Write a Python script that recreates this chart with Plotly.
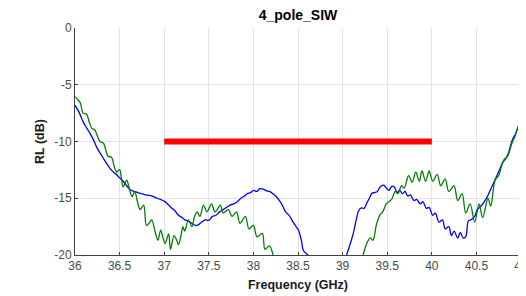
import plotly.graph_objects as go

# Blue trace (frequency GHz, RL dB); None marks where the curve leaves the -20 dB floor
blue_f = [36.00, 36.05, 36.09, 36.13, 36.17, 36.21, 36.24, 36.28, 36.32, 36.36, 36.39, 36.43, 36.47, 36.50,
          36.54, 36.58, 36.62, 36.66, 36.69, 36.74, 36.80, 36.86, 36.92, 36.97, 37.01, 37.05, 37.09, 37.12,
          37.16, 37.20, 37.23, 37.27, 37.31, 37.35, 37.38, 37.42, 37.46, 37.50, 37.54, 37.58, 37.62, 37.66,
          37.70, 37.74, 37.78, 37.82, 37.86, 37.90, 37.93, 37.97, 38.00, 38.04, 38.07, 38.11, 38.15, 38.18,
          38.21, 38.25, 38.30, 38.33, 38.36, 38.40, 38.43, 38.47, 38.51, 38.54, 38.56, 38.615, None,
          39.045, 39.09, 39.12, 39.15, 39.18, 39.21, 39.24, 39.27, 39.30, 39.33, 39.36, 39.39, 39.42, 39.46,
          39.49, 39.52, 39.55, 39.58, 39.61, 39.64, 39.67, 39.70, 39.73, 39.76, 39.80, 39.83, 39.87, 39.90,
          39.94, 39.97, 40.01, 40.04, 40.08, 40.12, 40.15, 40.19, 40.22, 40.25, 40.29, 40.32, 40.35, 40.38,
          40.41, 40.44, 40.48, 40.51, 40.55, 40.58, 40.62, 40.66, 40.69, 40.73, 40.76, 40.79, 40.83, 40.86,
          40.90, 40.94, 40.97, 41.00]
blue_rl = [-6.8, -7.5, -8.25, -8.8, -9.3, -9.9, -10.45, -11.0, -11.5, -12.0, -12.35, -12.7, -12.95, -13.2,
           -13.5, -13.9, -14.25, -14.4, -14.45, -14.6, -14.7, -14.8, -15.0, -15.15, -15.3, -15.6, -15.9, -16.1,
           -16.5, -16.7, -16.9, -17.0, -17.2, -17.4, -17.35, -17.1, -16.9, -16.95, -16.6, -16.5, -16.2, -16.0,
           -15.8, -15.6, -15.5, -15.3, -15.0, -14.8, -14.6, -14.5, -14.3, -14.4, -14.15, -14.2, -14.35, -14.4,
           -14.55, -14.8, -15.3, -15.7, -16.2, -16.5, -16.9, -17.4, -17.9, -18.8, -19.6, -20.0, None,
           -20.0, -18.9, -18.1, -17.0, -16.1, -15.85, -15.9, -15.45, -15.0, -14.55, -14.5, -14.4, -14.0, -13.85,
           -14.1, -14.3, -13.95, -14.0, -14.5, -14.3, -14.6, -14.4, -14.8, -14.7, -15.2, -15.1, -15.5, -15.3,
           -15.9, -15.8, -16.5, -16.3, -17.1, -16.9, -17.7, -17.5, -18.3, -17.9, -18.5, -18.0, -18.5, -18.4,
           -17.0, -16.9, -16.6, -16.0, -15.7, -15.4, -14.9, -14.2, -13.7, -13.0, -12.5, -11.9, -11.5, -11.0,
           -9.9, -9.3, -8.7, -8.25]

# Green trace
green_f = [36.00, 36.03, 36.06, 36.09, 36.13, 36.16, 36.19, 36.22, 36.25, 36.28, 36.32, 36.35, 36.37, 36.41,
           36.44, 36.47, 36.50, 36.52, 36.54, 36.58, 36.61, 36.64, 36.67, 36.70, 36.73, 36.77, 36.80, 36.83,
           36.86, 36.90, 36.93, 36.96, 36.99, 37.01, 37.05, 37.07, 37.11, 37.14, 37.16, 37.19, 37.21, 37.23,
           37.27, 37.31, 37.34, 37.37, 37.40, 37.44, 37.48, 37.53, 37.57, 37.63, 37.66, 37.72, 37.76, 37.81,
           37.85, 37.91, 37.95, 38.00, 38.04, 38.10, 38.13, 38.18, 38.22, None,
           39.23, 39.27, 39.31, 39.34, 39.38, 39.42, 39.45, 39.49, 39.52, 39.55, 39.59, 39.62, 39.66, 39.69,
           39.74, 39.78, 39.82, 39.86, 39.89, 39.93, 39.97, 40.01, 40.06, 40.10, 40.15, 40.19, 40.25, 40.29,
           40.34, 40.38, 40.43, 40.48, 40.53, 40.57, 40.63, 40.66, 40.71, 40.75, 40.78, 40.81, 40.85, 40.90,
           40.93, 40.96, 41.00]
green_rl = [-6.05, -6.3, -6.6, -7.5, -7.6, -8.3, -8.85, -8.95, -9.5, -10.0, -10.15, -10.9, -11.3, -11.4,
            -12.2, -12.7, -12.45, -13.2, -14.0, -13.4, -14.2, -14.85, -14.4, -15.3, -16.0, -15.6, -17.4, -17.2,
            -16.9, -18.0, -18.7, -17.8, -18.6, -19.0, -18.15, -19.5, -18.3, -18.7, -19.1, -18.2, -17.5, -17.9,
            -16.9, -17.5, -16.6, -16.2, -16.6, -15.6, -16.2, -15.5, -16.2, -15.6, -16.3, -16.0, -16.6, -16.2,
            -17.2, -16.6, -17.7, -17.4, -18.4, -18.1, -19.5, -19.2, -20.0, None,
            -20.0, -19.0, -18.5, -18.7, -17.3, -16.45, -16.2, -15.5, -15.3, -15.1, -14.4, -14.6, -13.9, -14.1,
            -13.0, -13.6, -12.7, -13.5, -12.6, -13.5, -12.6, -13.5, -12.9, -13.9, -13.3, -14.4, -13.9, -15.2,
            -14.6, -16.3, -15.5, -17.1, -15.5, -16.7, -15.0, -15.7, -13.4, -13.0, -12.2, -11.6, -11.3, -10.1,
            -9.6, -8.85, -8.25]

# Red specification line
spec_f = [37.0, 40.0]
spec_rl = [-10.0, -10.0]

x_ticks = [36, 36.5, 37, 37.5, 38, 38.5, 39, 39.5, 40, 40.5, 41]
x_tick_text = ["36", "36.5", "37", "37.5", "38", "38.5", "39", "39.5", "40", "40.5", "41"]
y_ticks = [-20, -15, -10, -5, 0]
y_tick_text = ["-20", "-15", "-10", "-5", "0"]

fig = go.Figure()
fig.add_trace(go.Scatter(x=blue_f, y=blue_rl, mode="lines", line=dict(color="#0000FF", width=1.3, shape="spline", smoothing=0.9),
                         connectgaps=False, showlegend=False))
fig.add_trace(go.Scatter(x=green_f, y=green_rl, mode="lines", line=dict(color="#008000", width=1.3, shape="spline", smoothing=0.9),
                         connectgaps=False, showlegend=False))
fig.add_trace(go.Scatter(x=spec_f, y=spec_rl, mode="lines", line=dict(color="#FF0000", width=6), showlegend=False))

# the page body has an 8px default margin, so the figure is sized to fill the rest of the window
W, H = 518, 288
font_family = "Liberation Sans, Arial, sans-serif"
axis_font = dict(family=font_family, size=12, color="#4a4a4a")
fig.update_layout(
    width=W, height=H,
    margin=dict(l=67, r=5, t=20, b=41, autoexpand=False),
    paper_bgcolor="white", plot_bgcolor="white",
    title=dict(text="<b>4_pole_SIW</b>", x=290 / W, xanchor="center", y=1 - 7 / H, yanchor="middle",
               font=dict(family=font_family, size=14, color="#000000")),
    xaxis=dict(range=[36, 41], tickvals=x_ticks, ticktext=x_tick_text, showgrid=True, gridcolor="#E3E3E3", gridwidth=1,
               zeroline=False, showline=True, linecolor="#404040", linewidth=1, ticks="inside", ticklen=3,
               tickcolor="#404040", tickfont=axis_font, mirror=False, automargin=False, ticklabeloverflow="allow",
               title=dict(text="<b>Frequency (GHz)</b>", font=dict(family=font_family, size=12.5, color="#1a1a1a"), standoff=7)),
    yaxis=dict(range=[-20, 0], tickvals=y_ticks, ticktext=y_tick_text, showgrid=True, gridcolor="#E3E3E3", gridwidth=1,
               zeroline=False, showline=True, linecolor="#404040", linewidth=1, ticks="inside", ticklen=3,
               tickcolor="#404040", tickfont=axis_font, mirror=False, automargin=False, ticklabeloverflow="allow",
               title=dict(text="<b>RL (dB)</b>", font=dict(family=font_family, size=12.5, color="#1a1a1a"), standoff=6)),
)

fig.write_html("out.html")
